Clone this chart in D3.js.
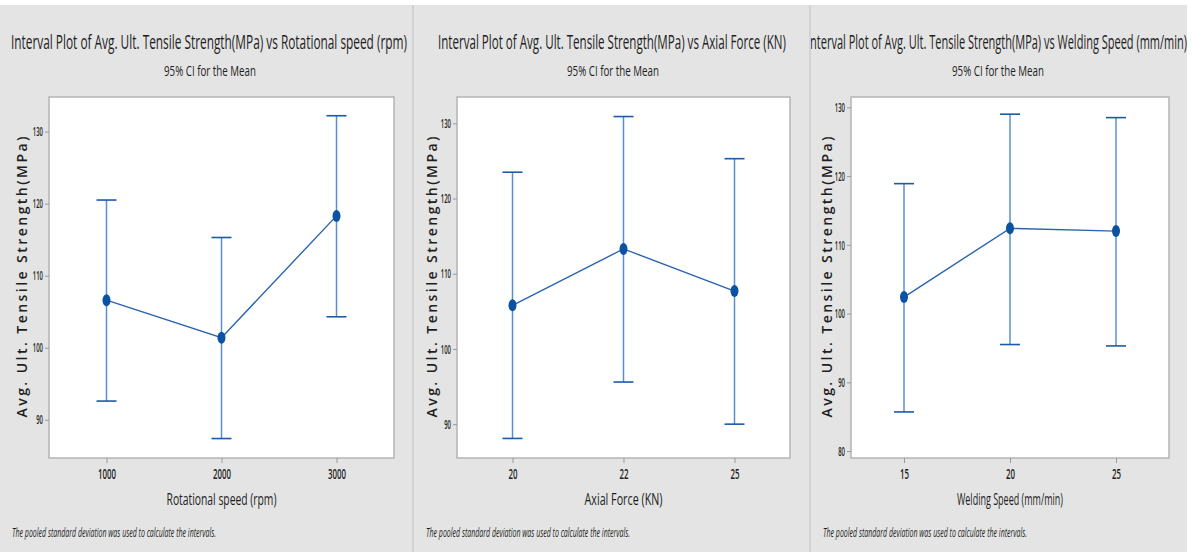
<!DOCTYPE html>
<html>
<head>
<meta charset="utf-8">
<script src="https://cdn.jsdelivr.net/npm/d3@7"></script>
<style>
  body { margin: 0; background: #fff; }
  svg { display: block; }
  text { font-family: "Liberation Sans Narrow", "Open Sans", sans-serif; fill: #1e1e1e; }
</style>
</head>
<body>
<div id="svg-area"></div>
<script>
// chart data
var rotLevels = ["1000", "2000", "3000"];
var rotMean = [106.6, 101.4, 118.3];
var rotLower = [92.6, 87.4, 104.3];
var rotUpper = [120.5, 115.3, 132.2];
var rotTicks = [90, 100, 110, 120, 130];

var axialLevels = ["20", "22", "25"];
var axialMean = [105.8, 113.3, 107.7];
var axialLower = [88.1, 95.6, 90.0];
var axialUpper = [123.5, 130.9, 125.3];
var axialTicks = [90, 100, 110, 120, 130];

var weldLevels = ["15", "20", "25"];
var weldMean = [102.4, 112.4, 112.0];
var weldLower = [85.7, 95.5, 95.3];
var weldUpper = [118.9, 129.0, 128.5];
var weldTicks = [80, 90, 100, 110, 120, 130];

var svgWidth = 1193;
var svgHeight = 552;

var svg = d3.select("#svg-area")
  .append("svg")
  .attr("width", svgWidth)
  .attr("height", svgHeight);

var panels = [
  {
    x0: 0, x1: 412, left: 49, right: 394, yDomain: [84.7, 134.8], titleX: 209, titleW: 396, yTitleX: 22,
    title: "Interval Plot of Avg. Ult. Tensile Strength(MPa) vs Rotational speed (rpm)",
    xTitle: "Rotational speed (rpm)", xTitleW: 110,
    levels: rotLevels, mean: rotMean, lower: rotLower, upper: rotUpper, ticks: rotTicks
  },
  {
    x0: 414, x1: 809, left: 457, right: 790, yDomain: [85.5, 133.5], titleX: 612, titleW: 348, yTitleX: 432,
    title: "Interval Plot of Avg. Ult. Tensile Strength(MPa) vs Axial Force (KN)",
    xTitle: "Axial Force (KN)", xTitleW: 78,
    levels: axialLevels, mean: axialMean, lower: axialLower, upper: axialUpper, ticks: axialTicks
  },
  {
    x0: 811, x1: 1187, left: 851, right: 1169, yDomain: [79.0, 131.5], titleX: 997, titleW: 380, yTitleX: 827,
    title: "Interval Plot of Avg. Ult. Tensile Strength(MPa) vs Welding Speed (mm/min)",
    xTitle: "Welding Speed (mm/min)", xTitleW: 106,
    levels: weldLevels, mean: weldMean, lower: weldLower, upper: weldUpper, ticks: weldTicks
  }
];

var plotTop = 97, plotBottom = 458;
var barColor = "#5a8fcf";
var darkBlue = "#1a5aa8";

panels.forEach(function(p) {
  var g = svg.append("g");
  var clipId = "clip" + p.x0;

  // panel background
  g.append("rect")
    .attr("x", p.x0).attr("y", 5)
    .attr("width", p.x1 - p.x0).attr("height", svgHeight - 5)
    .attr("fill", "#e4e4e4");

  g.append("clipPath").attr("id", clipId)
    .append("rect")
    .attr("x", p.x0).attr("y", 0)
    .attr("width", p.x1 - p.x0).attr("height", svgHeight);

  // titles
  g.append("text")
    .attr("clip-path", "url(#" + clipId + ")")
    .attr("x", p.titleX).attr("y", 49)
    .attr("text-anchor", "middle")
    .attr("font-size", 20)
    .attr("textLength", p.titleW)
    .attr("lengthAdjust", "spacingAndGlyphs")
    .text(p.title);

  g.append("text")
    .attr("x", p.titleX + 1).attr("y", 76)
    .attr("text-anchor", "middle")
    .attr("font-size", 15)
    .attr("textLength", 92)
    .attr("lengthAdjust", "spacingAndGlyphs")
    .text("95% CI for the Mean");

  var x = d3.scalePoint()
    .domain(p.levels)
    .range([p.left, p.right])
    .padding(0.5);

  var y = d3.scaleLinear()
    .domain(p.yDomain)
    .range([plotBottom, plotTop]);

  // plot area
  g.append("rect")
    .attr("x", p.left).attr("y", plotTop)
    .attr("width", p.right - p.left).attr("height", plotBottom - plotTop)
    .attr("fill", "#fff")
    .attr("stroke", "#b4b4b4")
    .attr("stroke-width", 1.5);

  // axes
  var leftAxis = d3.axisLeft(y).tickValues(p.ticks).tickSize(4).tickPadding(2);
  var bottomAxis = d3.axisBottom(x).tickSize(5).tickPadding(6);

  var ya = g.append("g")
    .attr("transform", `translate(${p.left}, 0)`)
    .call(leftAxis);
  var xa = g.append("g")
    .attr("transform", `translate(0, ${plotBottom})`)
    .call(bottomAxis);

  [ya, xa].forEach(function(a) {
    a.select(".domain").remove();
    a.selectAll(".tick line").attr("stroke", "#999");
    a.selectAll(".tick text")
      .attr("fill", "#1e1e1e")
      .attr("font-weight", 600)
      .attr("font-family", "'Open Sans', sans-serif");
  });
  ya.selectAll(".tick text")
    .attr("font-size", 13)
    .attr("textLength", d => String(d).length * 3.4)
    .attr("lengthAdjust", "spacingAndGlyphs");
  xa.selectAll(".tick text")
    .attr("font-size", 14)
    .attr("textLength", d => String(d).length * 4.5)
    .attr("lengthAdjust", "spacingAndGlyphs");

  // axis titles
  g.append("text")
    .attr("x", (p.left + p.right) / 2).attr("y", 505)
    .attr("text-anchor", "middle")
    .attr("font-size", 17)
    .attr("textLength", p.xTitleW)
    .attr("lengthAdjust", "spacingAndGlyphs")
    .text(p.xTitle);

  g.append("text")
    .attr("transform", `translate(${p.yTitleX + 5}, 277) rotate(-90)`)
    .attr("text-anchor", "middle")
    .attr("font-family", "'DejaVu Sans', sans-serif")
    .attr("font-size", 14)
    .attr("font-weight", 600)
    .attr("textLength", 281)
    .attr("lengthAdjust", "spacing")
    .attr("fill", "#1a1a1a")
    .text("Avg. Ult. Tensile Strength(MPa)");

  // footnote
  g.append("text")
    .attr("x", p.x0 + 12).attr("y", 537)
    .attr("font-size", 12)
    .attr("font-style", "italic")
    .attr("textLength", 204)
    .attr("lengthAdjust", "spacingAndGlyphs")
    .text("The pooled standard deviation was used to calculate the intervals.");

  // intervals
  var idx = d3.range(p.levels.length);

  g.selectAll(".bar")
    .data(idx)
    .enter()
    .append("line")
    .attr("x1", i => x(p.levels[i]))
    .attr("x2", i => x(p.levels[i]))
    .attr("y1", i => y(p.lower[i]))
    .attr("y2", i => y(p.upper[i]))
    .attr("stroke", barColor)
    .attr("stroke-width", 1.5);

  ["lower", "upper"].forEach(function(k) {
    g.selectAll(".cap-" + k)
      .data(idx)
      .enter()
      .append("line")
      .attr("x1", i => x(p.levels[i]) - 10)
      .attr("x2", i => x(p.levels[i]) + 10)
      .attr("y1", i => y(p[k][i]))
      .attr("y2", i => y(p[k][i]))
      .attr("stroke", darkBlue)
      .attr("stroke-width", 1.6);
  });

  var line = d3.line()
    .x(i => x(p.levels[i]))
    .y(i => y(p.mean[i]));

  g.append("path")
    .datum(idx)
    .attr("d", line)
    .attr("fill", "none")
    .attr("stroke", "#2a64b0")
    .attr("stroke-width", 1.4);

  g.selectAll(".mean")
    .data(idx)
    .enter()
    .append("ellipse")
    .attr("cx", i => x(p.levels[i]))
    .attr("cy", i => y(p.mean[i]))
    .attr("rx", 4)
    .attr("ry", 6)
    .attr("fill", "#0b52a3");
});

// separators between panels
[412, 809].forEach(function(sx) {
  svg.append("rect")
    .attr("x", sx).attr("y", 5)
    .attr("width", 2).attr("height", svgHeight - 5)
    .attr("fill", "#d2d2d2");
});
</script>
</body>
</html>
